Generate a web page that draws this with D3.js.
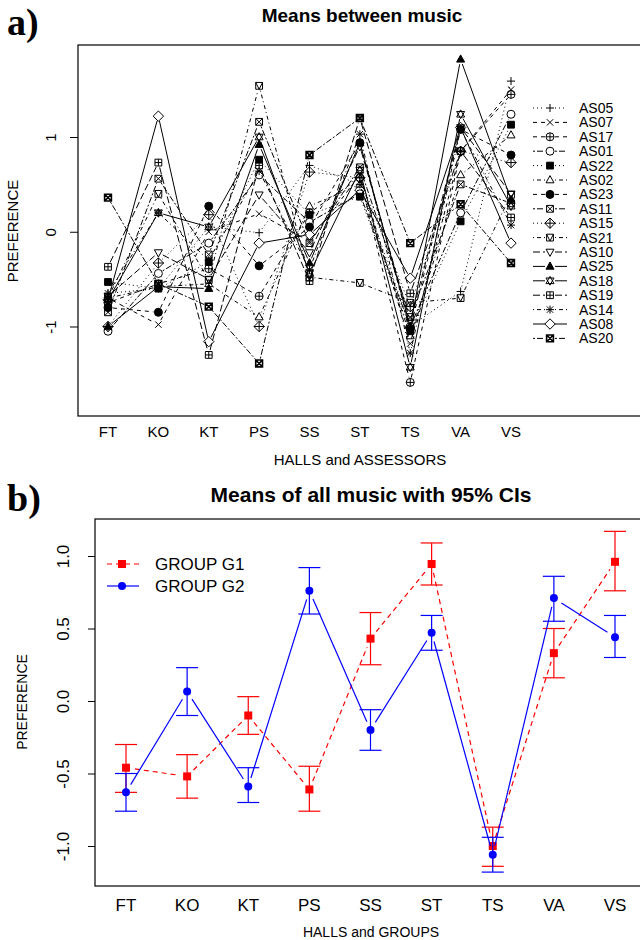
<!DOCTYPE html>
<html lang="en">
<head>
<meta charset="UTF-8">
<title>Preference means</title>
<script src="https://cdn.jsdelivr.net/npm/d3@7"></script>
<style>
    body { margin: 0; background: #fff; }
    svg text { font-family: 'Liberation Sans', Arial, sans-serif; fill: #000; }
    .panel-tag { font-family: 'Liberation Serif', 'Times New Roman', serif; font-weight: bold; }
</style>
</head>
<body>
<svg id="chart" width="640" height="940"></svg>
<script>
// ---- data ----
const halls = ['FT', 'KO', 'KT', 'PS', 'SS', 'ST', 'TS', 'VA', 'VS'];
const assessors = ['AS05', 'AS07', 'AS17', 'AS01', 'AS22', 'AS02', 'AS23', 'AS11', 'AS15',
                   'AS21', 'AS10', 'AS25', 'AS18', 'AS19', 'AS14', 'AS08', 'AS20'];

// means per hall (panel a)
const as05 = [-0.65, -0.60,  0.05, -0.01,  0.70,  0.50, -1.00, -0.63,  1.59];
const as07 = [-0.70, -0.98,  0.00,  0.19, -0.10,  0.60, -1.18,  0.85,  1.50];
const as17 = [-0.75, -0.55, -0.39, -0.68,  0.20,  0.57, -1.59,  0.85,  1.45];
const as01 = [-1.05, -0.44, -0.12,  0.60,  0.10,  0.40, -1.00,  0.20,  1.24];
const as22 = [-0.53, -0.60, -0.32,  0.76,  0.18,  0.37, -1.05,  0.11,  1.13];
const as02 = [-0.70, -0.58, -0.55, -0.90,  0.27,  0.50, -1.10,  0.60,  1.02];
const as23 = [-0.80, -0.85,  0.27, -0.36,  0.05,  0.94, -1.02,  1.08,  0.81];
const as11 = [-0.85,  0.56, -0.24,  1.16, -0.12,  0.68, -0.90,  0.50,  0.30];
const as15 = [-1.00, -0.33,  0.18, -1.00,  0.63,  0.57, -0.79,  0.85,  0.73];
const as21 = [-0.70,  0.40, -0.51,  1.54, -0.48, -0.54, -0.75, -0.70,  0.39];
const as10 = [-0.68, -0.22, -0.50,  0.39, -0.22,  0.90, -0.95,  1.10,  0.40];
const as25 = [-1.00, -0.58, -0.60,  0.92, -0.33,  0.94, -1.00,  1.82,  0.34];
const as18 = [-0.72,  0.20,  0.05,  1.00, -0.44,  0.65, -1.43,  1.24,  0.27];
const as19 = [-0.37,  0.73, -1.30,  0.70, -0.52,  1.20, -0.65,  0.85,  0.15];
const as14 = [-0.65,  0.20, -0.30,  0.64, -0.40,  1.03, -1.28,  1.08,  0.07];
const as08 = [-0.72,  1.22, -1.16, -0.12, -0.03,  0.44, -0.49,  1.10, -0.12];
const as20 = [ 0.36, -0.55, -0.79, -1.39,  0.81,  1.20, -0.12,  0.29, -0.33];
const assessorMeans = [as05, as07, as17, as01, as22, as02, as23, as11, as15,
                       as21, as10, as25, as18, as19, as14, as08, as20];

// group means with 95% CI (panel b)
const groups = ['GROUP G1', 'GROUP G2'];
const g1Mean = [-0.46, -0.52, -0.10, -0.61,  0.43,  0.945, -1.00,  0.33,  0.96];
const g1Low  = [-0.63, -0.67, -0.23, -0.76,  0.25,  0.80,  -1.14,  0.16,  0.76];
const g1High = [-0.30, -0.37,  0.03, -0.45,  0.61,  1.09,  -0.87,  0.50,  1.17];
const g2Mean = [-0.63,  0.065, -0.59,  0.76, -0.20,  0.47, -1.06,  0.71,  0.44];
const g2Low  = [-0.76, -0.10,  -0.70,  0.60, -0.34,  0.35, -1.18,  0.55,  0.30];
const g2High = [-0.50,  0.23,  -0.46,  0.92, -0.06,  0.59, -0.94,  0.86,  0.59];

// ---- styles for panel a (symbol / line type per assessor) ----
const assessorSymbols = ['plus', 'cross', 'circlePlus', 'circle', 'squareFill', 'triangle', 'dotFill',
    'squareCross', 'diamondPlus', 'squareTri', 'triDown', 'triFill', 'star6', 'squarePlus',
    'asterisk', 'diamond', 'squareCrossBold'];
const dashes = { solid: null, dashed: '4 4', dotted: '1 3', dotdash: '1 3 4 3', longdash: '7 3', twodash: '2 2 6 2' };
const assessorLines = ['dotted', 'dashed', 'dashed', 'twodash', 'dotted', 'dotdash', 'dashed',
    'twodash', 'dotted', 'dotdash', 'longdash', 'solid', 'solid', 'longdash', 'dotdash', 'solid', 'twodash'];

const svg = d3.select('#chart');

function circ(r) {
    return `M${-r},0a${r},${r} 0 1,0 ${2 * r},0a${r},${r} 0 1,0 ${-2 * r},0Z`;
}
function sq(s) { return `M${-s},${-s}H${s}V${s}H${-s}Z`; }
function symbolPath(type, s) {
    const plus = `M${-s},0H${s}M0,${-s}V${s}`;
    const c = s * 0.8;
    const cross = `M${-c},${-c}L${c},${c}M${-c},${c}L${c},${-c}`;
    const up = `M0,${-s * 1.1}L${s},${s * 0.7}H${-s}Z`;
    const down = `M0,${s * 1.1}L${s},${-s * 0.7}H${-s}Z`;
    const dia = `M0,${-s * 1.3}L${s * 1.3},0L0,${s * 1.3}L${-s * 1.3},0Z`;
    switch (type) {
        case 'plus': return plus;
        case 'cross': return cross;
        case 'circlePlus': return circ(s) + plus;
        case 'circle': case 'dotFill': return circ(s);
        case 'squareFill': return sq(s * 0.85);
        case 'triangle': case 'triFill': return up;
        case 'squareCross': case 'squareCrossBold':
            return sq(s * 0.85) + `M${-s * 0.85},${-s * 0.85}L${s * 0.85},${s * 0.85}M${-s * 0.85},${s * 0.85}L${s * 0.85},${-s * 0.85}`;
        case 'diamondPlus': return dia + `M${-s * 1.3},0H${s * 1.3}M0,${-s * 1.3}V${s * 1.3}`;
        case 'squareTri': return sq(s * 0.85) + `M${-s * 0.85},${-s * 0.85}L0,${s * 0.85}L${s * 0.85},${-s * 0.85}`;
        case 'triDown': return down;
        case 'star6': return up + down;
        case 'squarePlus': return sq(s * 0.85) + `M${-s * 0.85},0H${s * 0.85}M0,${-s * 0.85}V${s * 0.85}`;
        case 'asterisk': return plus + cross;
        case 'diamond': return dia;
    }
    return plus;
}
function isFilled(type) { return type === 'squareFill' || type === 'dotFill' || type === 'triFill'; }

// draws a polyline as separate segments that stop short of the points (R type="b")
function gappedSegments(g, pts, gap) {
    const segs = [];
    for (let i = 0; i < pts.length - 1; i++) {
        const [x1, y1] = pts[i], [x2, y2] = pts[i + 1];
        const len = Math.hypot(x2 - x1, y2 - y1);
        if (len <= 2 * gap) continue;
        const ux = (x2 - x1) / len, uy = (y2 - y1) / len;
        segs.push([x1 + ux * gap, y1 + uy * gap, x2 - ux * gap, y2 - uy * gap]);
    }
    return g.selectAll(null).data(segs).join('line')
        .attr('x1', d => d[0]).attr('y1', d => d[1])
        .attr('x2', d => d[2]).attr('y2', d => d[3]);
}

// ================= panel a =================
const A = { left: 78, top: 45, right: 641, bottom: 416 };
const xA = d3.scaleLinear().domain([0, 8]).range([108, 511]);
const yA = d3.scaleLinear().domain([-1, 1]).range([326.5, 137]);

svg.append('text').attr('class', 'panel-tag').attr('x', 7).attr('y', 35)
    .attr('font-size', 38).text('a)');
svg.append('text').attr('x', 362).attr('y', 22).attr('text-anchor', 'middle')
    .attr('font-size', 19).attr('font-weight', 'bold').text('Means between music');

const gA = svg.append('g');
gA.append('rect').attr('x', A.left).attr('y', A.top)
    .attr('width', A.right - A.left).attr('height', A.bottom - A.top)
    .attr('fill', 'none').attr('stroke', '#000').attr('stroke-width', 1.2);

const yAxisA = gA.append('g').attr('transform', `translate(${A.left},0)`)
    .call(d3.axisLeft(yA).tickValues([-1, 0, 1]).tickSize(8).tickSizeOuter(0).tickFormat(d => d.toString()));
yAxisA.select('.domain').remove();
yAxisA.selectAll('line').attr('stroke', '#000');
yAxisA.selectAll('text').attr('font-size', 15).attr('transform', 'rotate(-90)')
    .attr('x', 0).attr('y', -22).attr('dy', 0).attr('text-anchor', 'middle').attr('fill', '#000');

gA.selectAll('.xlabA').data(halls).join('text')
    .attr('x', (d, i) => xA(i)).attr('y', 437).attr('text-anchor', 'middle')
    .attr('font-size', 15).text(d => d);
gA.append('text').attr('x', 360).attr('y', 465).attr('text-anchor', 'middle')
    .attr('font-size', 15).text('HALLS and ASSESSORS');
gA.append('text').attr('transform', 'translate(18,231) rotate(-90)').attr('text-anchor', 'middle')
    .attr('font-size', 15).text('PREFERENCE');

assessorMeans.forEach((vals, k) => {
    const pts = vals.map((v, i) => [xA(i), yA(v)]);
    const sg = gA.append('g');
    gappedSegments(sg, pts, 5)
        .attr('stroke', '#000').attr('stroke-width', 1)
        .attr('stroke-dasharray', dashes[assessorLines[k]]);
    const type = assessorSymbols[k];
    sg.selectAll('path').data(pts).join('path')
        .attr('transform', d => `translate(${d[0]},${d[1]})`)
        .attr('d', symbolPath(type, 4))
        .attr('fill', isFilled(type) ? '#000' : 'none')
        .attr('stroke', '#000')
        .attr('stroke-width', type === 'squareCrossBold' ? 1.6 : 1);
});

// legend a
const legA = gA.append('g');
assessors.forEach((name, k) => {
    const y = 108 + k * 14.4;
    const type = assessorSymbols[k];
    legA.append('line').attr('x1', 533).attr('x2', 545).attr('y1', y).attr('y2', y)
        .attr('stroke', '#000').attr('stroke-dasharray', dashes[assessorLines[k]]);
    legA.append('line').attr('x1', 555).attr('x2', 567).attr('y1', y).attr('y2', y)
        .attr('stroke', '#000').attr('stroke-dasharray', dashes[assessorLines[k]]);
    legA.append('path').attr('transform', `translate(550,${y})`)
        .attr('d', symbolPath(type, 4))
        .attr('fill', isFilled(type) ? '#000' : 'none').attr('stroke', '#000')
        .attr('stroke-width', type === 'squareCrossBold' ? 1.6 : 1);
    legA.append('text').attr('x', 579).attr('y', y + 5).attr('font-size', 14).text(name);
});

// ================= panel b =================
const B = { left: 95, top: 519, right: 641, bottom: 886 };
const xB = d3.scaleLinear().domain([0, 8]).range([126, 615]);
const yB = d3.scaleLinear().domain([-1, 1]).range([846, 556]);

svg.append('text').attr('class', 'panel-tag').attr('x', 7).attr('y', 511)
    .attr('font-size', 38).text('b)');
svg.append('text').attr('x', 371).attr('y', 502).attr('text-anchor', 'middle')
    .attr('font-size', 21).attr('font-weight', 'bold').text('Means of all music with 95% CIs');

const gB = svg.append('g');
gB.append('rect').attr('x', B.left).attr('y', B.top)
    .attr('width', B.right - B.left).attr('height', B.bottom - B.top)
    .attr('fill', 'none').attr('stroke', '#000').attr('stroke-width', 1.2);

const yAxisB = gB.append('g').attr('transform', `translate(${B.left},0)`)
    .call(d3.axisLeft(yB).tickValues([-1, -0.5, 0, 0.5, 1]).tickSize(7).tickSizeOuter(0)
        .tickFormat(d => d.toFixed(1)));
yAxisB.select('.domain').remove();
yAxisB.selectAll('line').attr('stroke', '#000');
yAxisB.selectAll('text').attr('font-size', 17).attr('transform', 'rotate(-90)')
    .attr('x', 0).attr('y', -26).attr('dy', 0).attr('text-anchor', 'middle').attr('fill', '#000');

gB.selectAll('.xlabB').data(halls).join('text')
    .attr('x', (d, i) => xB(i)).attr('y', 911).attr('text-anchor', 'middle')
    .attr('font-size', 17).text(d => d);
gB.append('text').attr('x', 371).attr('y', 937).attr('text-anchor', 'middle')
    .attr('font-size', 14).text('HALLS and GROUPS');
gB.append('text').attr('transform', 'translate(27,702) rotate(-90)').attr('text-anchor', 'middle')
    .attr('font-size', 14).text('PREFERENCE');

const groupData = [
    { mean: g1Mean, low: g1Low, high: g1High, color: '#ff0000', dash: '5 4', marker: 'square' },
    { mean: g2Mean, low: g2Low, high: g2High, color: '#0000ff', dash: null, marker: 'circle' }
];

groupData.forEach(gd => {
    const g = gB.append('g');
    const pts = gd.mean.map((v, i) => [xB(i), yB(v)]);
    gappedSegments(g, pts, 9).attr('stroke', gd.color).attr('stroke-width', 1.2)
        .attr('stroke-dasharray', gd.dash);
    // CI bars
    const bars = g.selectAll('.ci').data(gd.mean.map((v, i) => i)).join('g');
    bars.append('line').attr('x1', i => xB(i)).attr('x2', i => xB(i))
        .attr('y1', i => yB(gd.low[i])).attr('y2', i => yB(gd.high[i]))
        .attr('stroke', gd.color).attr('stroke-width', 1.2);
    bars.append('line').attr('x1', i => xB(i) - 11).attr('x2', i => xB(i) + 11)
        .attr('y1', i => yB(gd.low[i])).attr('y2', i => yB(gd.low[i]))
        .attr('stroke', gd.color).attr('stroke-width', 1.2);
    bars.append('line').attr('x1', i => xB(i) - 11).attr('x2', i => xB(i) + 11)
        .attr('y1', i => yB(gd.high[i])).attr('y2', i => yB(gd.high[i]))
        .attr('stroke', gd.color).attr('stroke-width', 1.2);
    if (gd.marker === 'square') {
        g.selectAll('.pt').data(pts).join('rect')
            .attr('x', d => d[0] - 4).attr('y', d => d[1] - 4)
            .attr('width', 8).attr('height', 8).attr('fill', gd.color);
    } else {
        g.selectAll('.pt').data(pts).join('circle')
            .attr('cx', d => d[0]).attr('cy', d => d[1]).attr('r', 4).attr('fill', gd.color);
    }
});

// legend b
groupData.forEach((gd, k) => {
    const y = 564 + k * 22;
    gB.append('line').attr('x1', 107).attr('x2', 139).attr('y1', y).attr('y2', y)
        .attr('stroke', gd.color).attr('stroke-width', 1.2).attr('stroke-dasharray', gd.dash);
    if (gd.marker === 'square') {
        gB.append('rect').attr('x', 118).attr('y', y - 4).attr('width', 8).attr('height', 8).attr('fill', gd.color);
    } else {
        gB.append('circle').attr('cx', 122).attr('cy', y).attr('r', 4).attr('fill', gd.color);
    }
    gB.append('text').attr('x', 155).attr('y', y + 6).attr('font-size', 17).text(groups[k]);
});
</script>
</body>
</html>
